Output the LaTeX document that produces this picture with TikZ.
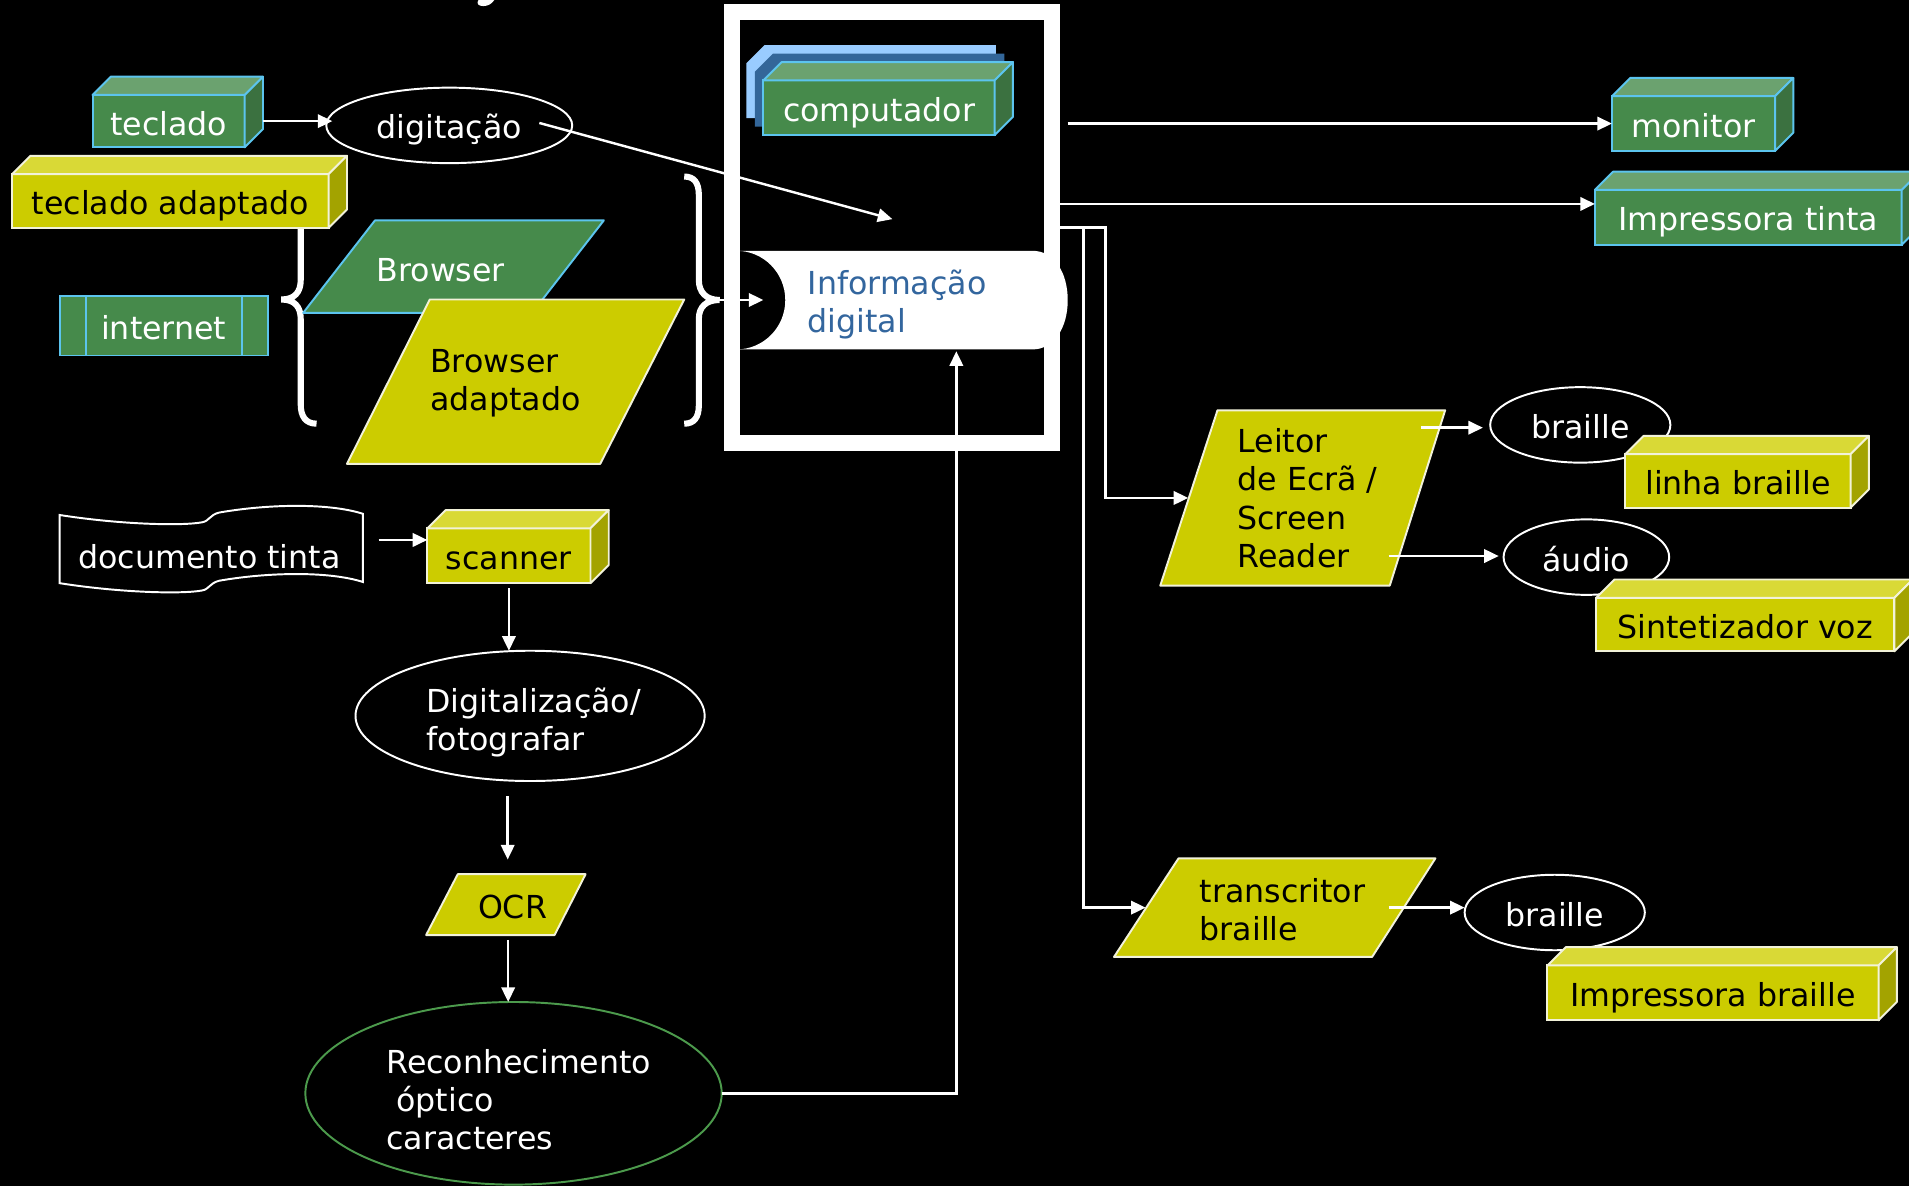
\documentclass[tikz,border=0pt]{standalone}
\usepackage{fontspec}
\setmainfont{DejaVu Sans}
\usetikzlibrary{arrows.meta,shapes.geometric,calc}
\definecolor{gfront}{HTML}{468A4B}
\definecolor{gtop}{HTML}{6BA26F}
\definecolor{gside}{HTML}{3B7140}
\definecolor{gedge}{HTML}{5CC4EE}
\definecolor{yfront}{HTML}{CCCC00}
\definecolor{ytop}{HTML}{D9D936}
\definecolor{yside}{HTML}{A3A300}
\definecolor{yedge}{HTML}{F2F2D9}
\definecolor{lblue}{HTML}{99CCFF}
\definecolor{dblue}{HTML}{336699}
\definecolor{infotext}{HTML}{33669E}
\definecolor{recedge}{HTML}{4C9A4C}
\newcommand\lstr{\rule[-3.9pt]{0pt}{15.75pt}}
\newcommand\sstr{\rule[-2.1pt]{0pt}{15.75pt}}
\newcommand\cubefaces[4]{%
  \filldraw[fill=#2,draw=#4,line width=0.8pt,line join=round] (#1.north west) -- ++(15,-15) -- ($(#1.north east)+(15,-15)$) -- (#1.north east) -- cycle;
  \filldraw[fill=#3,draw=#4,line width=0.8pt,line join=round] (#1.north east) -- ++(15,-15) -- ($(#1.south east)+(15,-15)$) -- (#1.south east) -- cycle;}
\tikzset{
  conn/.style={white, line width=1pt, -{Triangle[length=6pt,width=5.5pt]}},
  lbl/.style={font=\fontsize{13}{15.75}\selectfont, inner sep=0pt, align=left},
  wl/.style={lbl, text=white},
  bl/.style={lbl, text=black},
  gface/.style={rectangle, draw=gedge, line width=0.8pt, fill=gfront, text=white, inner sep=0pt, outer sep=0pt, font=\fontsize{13}{15.75}\selectfont},
  yface/.style={rectangle, draw=yedge, line width=0.8pt, fill=yfront, text=black, inner sep=0pt, outer sep=0pt, font=\fontsize{13}{15.75}\selectfont},
  oval/.style={ellipse, draw=white, line width=0.8pt, fill=black, text=white, inner sep=0pt, outer sep=0pt, font=\fontsize{13}{15.75}\selectfont},
  gpar/.style={fill=gfront, draw=gedge, line width=0.8pt, line join=round},
  ypar/.style={fill=yfront, draw=yedge, line width=0.8pt, line join=round},
  bracestyle/.style={white, line width=2.5pt},
}
\begin{document}
\begin{tikzpicture}[x=0.5pt,y=-0.5pt]
\useasboundingbox (0,0) rectangle (1568,974);
\fill[black] (0,0) rectangle (1568,974);
% title fragment
\fill[white] (393,0) .. controls (391,3) and (393,5) .. (397,5) .. controls (401,5) and (404,3) .. (406,0) -- cycle;

% arrow from right brace into information
\coordinate (brR) at (591,246.4);
\coordinate (infL) at (627,246.4);
\draw[conn] (brR) -- (infL);

% computador stack
\fill[lblue] (613,97) -- (613,52) -- (628,37) -- (818,37) -- (818,82) -- (803,97) -- cycle;
\fill[dblue] (620,104) -- (620,59) -- (635,44) -- (825,44) -- (825,89) -- (810,104) -- cycle;
\node[gface, minimum width=95pt, minimum height=22.5pt] (comp) at (722,88.5) {\sstr computador};
\cubefaces{comp}{gtop}{gside}{gedge}

% Informacao digital
\fill[white] (605,206) -- (848,206) .. controls (866,206) and (877,224) .. (877,246.5) .. controls (877,269) and (866,287) .. (848,287) -- (605,287) .. controls (627,287) and (645,269) .. (645,246.5) .. controls (645,224) and (627,206) .. (605,206) -- cycle;
\node[lbl, text=infotext, anchor=west] (info) at (663,249.5) {\lstr Informação\\\lstr digital};

% frame
\node[draw=white, line width=6.5pt, minimum width=131.5pt, minimum height=177pt, inner sep=0pt, outer sep=0pt] (frame) at (732.5,187) {};

% left input side
\node[gface, minimum width=62.5pt, minimum height=21.5pt] (tec) at (138.5,99.5) {\sstr teclado};
\cubefaces{tec}{gtop}{gside}{gedge}
\node[oval, minimum width=101pt, minimum height=31pt] (dig) at (369,103) {\sstr digitação};
\draw[conn, shorten >=5pt] ([xshift=7.5pt]tec.east) -- ([xshift=7.5pt]tec.east -| dig.west);
\coordinate (digout) at (443,101);
\coordinate (digend) at (733,180);
\draw[conn] (digout) -- (digend);

\draw[bracestyle] (260,348) .. controls (251,348) and (247,342) .. (247,332) -- (247,262) .. controls (247,252) and (242,246) .. (231,246) .. controls (242,246) and (247,240) .. (247,230) -- (247,160) .. controls (247,150) and (251,144) .. (260,144);
\draw[bracestyle] (562,145) .. controls (570,145) and (574,150) .. (574,160) -- (574,230) .. controls (574,240) and (580,246.4) .. (591,246.4) .. controls (580,246.4) and (574,252) .. (574,262) -- (574,333) .. controls (574,343) and (570,348) .. (562,348);

\node[yface, minimum width=130pt, minimum height=22pt] (tecad) at (140,165) {\sstr teclado adaptado};
\cubefaces{tecad}{ytop}{yside}{yedge}

\filldraw[gpar] (308,181) -- (496,181) -- (437,257) -- (249,257) -- cycle;
\node[wl] (brw) at (362,220) {\sstr Browser};
\filldraw[ypar] (353,246) -- (562,246) -- (493,381) -- (285,381) -- cycle;
\node[bl, anchor=west] (brwad) at (353,313.5) {\lstr Browser\\\lstr adaptado};

\node[gface, minimum width=85.5pt, minimum height=24.5pt] (inet) at (134.5,267.5) {\sstr internet};
\draw[gedge, line width=0.8pt] ([xshift=11pt]inet.north west) -- ([xshift=11pt]inet.south west);
\draw[gedge, line width=0.8pt] ([xshift=-10.5pt]inet.north east) -- ([xshift=-10.5pt]inet.south east);

% scanning chain
\filldraw[fill=black, draw=white, line width=0.8pt] (49,423) .. controls (100,431) and (150,432) .. (166,429) .. controls (172,428) and (172,423) .. (180,421) .. controls (220,414) and (270,413) .. (298,422) -- (298,478) .. controls (270,469) and (220,470) .. (180,477) .. controls (172,479) and (172,484) .. (166,485) .. controls (150,488) and (100,487) .. (49,479) -- cycle;
\node[wl] (doc) at (172,455) {\sstr documento tinta};

\node[yface, minimum width=67pt, minimum height=22.5pt] (scan) at (418,456.5) {\sstr scanner};
\cubefaces{scan}{ytop}{yside}{yedge}
\coordinate (docout) at (311,443.5);
\draw[conn] (docout) -- (docout -| scan.west);

\node[oval, minimum width=143.4pt, minimum height=53.5pt] (digi) at (435.4,588) {};
\node[wl, anchor=west] (digit) at (350,593) {\lstr Digitalização/\\\lstr fotografar};
\draw[conn] ([yshift=-2pt]scan.south) -- (scan.south |- digi.north);

\filldraw[ypar] (376,718) -- (481,718) -- (455.5,768) -- (350,768) -- cycle;
\node[bl] (ocr) at (421,743) {\sstr OCR};
\coordinate (digbot) at (417,654);
\coordinate (ocrtop) at (417,706);
\draw[conn] (digbot) -- (ocrtop);

\node[oval, draw=recedge, minimum width=171pt, minimum height=75pt] (rec) at (421.8,898) {};
\node[wl, anchor=west] (rectx) at (317,905) {\lstr Reconhecimento\\\lstr\ óptico\\\lstr caracteres};
\coordinate (ocrbot) at (417.4,772);
\draw[conn] (ocrbot) -- (ocrbot |- rec.north);
\coordinate (infbot) at (785.5,288.5);
\draw[conn] (rec.east) -| (infbot);

% outputs
\node[gface, minimum width=67pt, minimum height=22.5pt] (mon) at (1391,101.5) {\sstr monitor};
\cubefaces{mon}{gtop}{gside}{gedge}
\node[gface, minimum width=126pt, minimum height=22.5pt] (imptin) at (1436,178.5) {\sstr Impressora tinta};
\cubefaces{imptin}{gtop}{gside}{gedge}
\draw[conn] ($(frame.east |- mon.west)+(13,0)$) -- (mon.west);
\coordinate (imptarget) at ([yshift=5.5pt]imptin.west);
\draw[conn] (frame.east |- imptarget) -- (imptarget);

\coordinate (jA) at (908,187);
\coordinate (jB) at (890,187);
\coordinate (leitin) at (976,409);
\coordinate (transin) at (941,745.5);
\draw[conn] (frame.east) -- (jA) |- (leitin);
\draw[conn] (frame.east) -- (jB) |- (transin);

\filldraw[ypar] (1000,337) -- (1187,337) -- (1141.5,481) -- (953,481) -- cycle;
\node[bl, anchor=west] (leit) at (1016,411) {\lstr Leitor\\\lstr de Ecrã /\\\lstr Screen\\\lstr Reader};

\node[oval, minimum width=74pt, minimum height=31pt] (br1) at (1298,349) {\sstr braille};
\coordinate (lout1) at (1167,351.3);
\draw[conn, shorten >=3pt] (lout1) -- (lout1 -| br1.west);
\node[yface, minimum width=92.5pt, minimum height=22pt] (linha) at (1427.5,395) {\sstr linha braille};
\cubefaces{linha}{ytop}{yside}{yedge}

\node[oval, minimum width=68pt, minimum height=31pt] (aud) at (1303,457.6) {\sstr áudio};
\coordinate (lout2) at (1140.6,456.7);
\draw[conn, shorten >=2pt] (lout2) -- (lout2 -| aud.west);
\node[yface, minimum width=122.5pt, minimum height=22pt] (sint) at (1433.5,513) {\sstr Sintetizador voz};
\cubefaces{sint}{ytop}{yside}{yedge}

\filldraw[ypar] (968,705) -- (1179,705) -- (1127,786) -- (915,786) -- cycle;
\node[bl, anchor=west] (trans) at (985,749) {\lstr transcritor\\\lstr braille};

\node[oval, minimum width=74pt, minimum height=31pt] (br2) at (1277,749.5) {\sstr braille};
\coordinate (tout) at (1140.6,745.5);
\draw[conn] (tout) -- (tout -| br2.west);
\node[yface, minimum width=136pt, minimum height=22.5pt] (impbr) at (1407,815.5) {\sstr Impressora braille};
\cubefaces{impbr}{ytop}{yside}{yedge}
\end{tikzpicture}
\end{document}
